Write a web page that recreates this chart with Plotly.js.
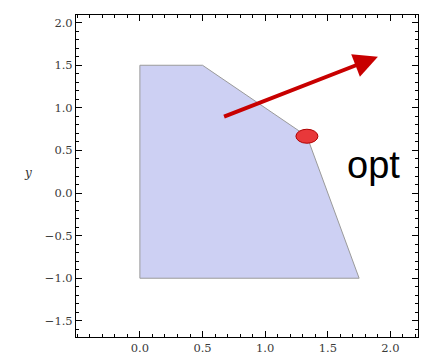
<!DOCTYPE html>
<html><head><meta charset="utf-8">
<script src="https://cdn.plot.ly/plotly-3.0.1.min.js"></script>
<style>html,body{margin:0;padding:0;background:#fff}</style>
</head><body><div id="chart" style="width:423px;height:356px"></div>
<script>
// Feasible region polygon vertices
const regionX = [0, 0, 0.5, 1.3333, 1.75, 0];
const regionY = [-1, 1.5, 1.5, 0.6667, -1, -1];
// Objective direction arrow (start -> end)
const arrowStart = [0.66, 0.89];
const arrowEnd = [1.9, 1.6];
// Optimal vertex
const optPoint = [1.3333, 0.6667];
const optLabel = "opt";
const optLabelPos = [1.865, 0.33];
const axisTitleY = "y";
const xTickVals = [0, 0.5, 1, 1.5, 2];
const yTickVals = [-1.5, -1, -0.5, 0, 0.5, 1, 1.5, 2];

const tickFont = {family: "DejaVu Serif", size: 11.5, color: "#3a3a3a"};
const axisCommon = {
  showgrid: false, zeroline: false, showline: true, linecolor: "#000", linewidth: 1,
  mirror: "allticks", ticks: "inside", ticklen: 6, tickcolor: "#000", tickwidth: 1,
  tickmode: "array", tickformat: ".1f", tickfont: tickFont,
  minor: {tickmode: "linear", ticks: "inside", ticklen: 3, dtick: 0.1, tick0: 0, tickcolor: "#000", showgrid: false}
};

const data = [{
  type: "scatter", mode: "lines", x: regionX, y: regionY,
  fill: "toself", fillcolor: "#cdd0f3",
  line: {color: "#9a9a9a", width: 1}, hoverinfo: "skip", showlegend: false
}];

const layout = {
  width: 423, height: 356,
  margin: {l: 76, r: 5, t: 15, b: 19},
  paper_bgcolor: "#fff", plot_bgcolor: "#fff",
  showlegend: false,
  xaxis: Object.assign({}, axisCommon, {range: [-0.51, 2.22], tickvals: xTickVals}),
  yaxis: Object.assign({}, axisCommon, {range: [-1.69, 2.09], tickvals: yTickVals}),
  shapes: [{
    type: "circle", xref: "x", yref: "y",
    xsizemode: "pixel", ysizemode: "pixel",
    xanchor: optPoint[0], yanchor: optPoint[1],
    x0: -11, x1: 11, y0: -7, y1: 7,
    fillcolor: "#e8383a", line: {color: "#b00000", width: 1}
  }],
  annotations: [
    {
      xref: "x", yref: "y", axref: "x", ayref: "y",
      x: arrowEnd[0], y: arrowEnd[1], ax: arrowStart[0], ay: arrowStart[1],
      text: "", showarrow: true, arrowhead: 2, arrowsize: 1.2, arrowwidth: 4,
      arrowcolor: "#c80000", standoff: 0
    },
    {
      xref: "x", yref: "y", x: optLabelPos[0], y: optLabelPos[1],
      text: optLabel, showarrow: false,
      font: {family: "Liberation Sans", size: 38, color: "#000"}
    },
    {
      xref: "paper", yref: "paper", x: -0.14, y: 0.51, xanchor: "center",
      text: "<i>" + axisTitleY + "</i>", showarrow: false,
      font: {family: "DejaVu Serif", size: 12, color: "#333"}
    }
  ]
};

Plotly.newPlot("chart", data, layout, {displayModeBar: false, staticPlot: true});
</script></body></html>
